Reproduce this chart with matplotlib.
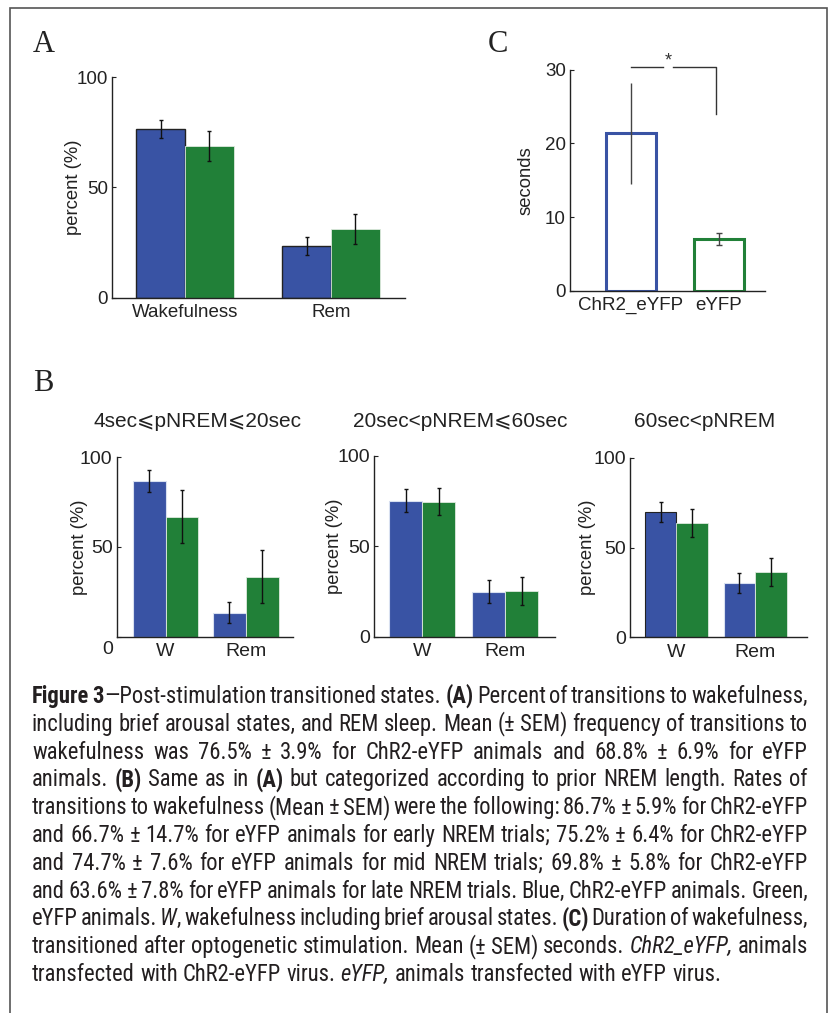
import re
import numpy as np
import matplotlib
matplotlib.use('Agg')
import matplotlib.pyplot as plt
from matplotlib.patches import Rectangle
from matplotlib.transforms import ScaledTranslation, blended_transform_factory

W, H = 829, 1013
plt.rcParams['font.family'] = ['Liberation Sans', 'DejaVu Sans']
plt.rcParams['text.color'] = '#222222'

# dane - panel A
grupy_a = ['Wakefulness', 'Rem']
chr2_a = [76.5, 23.5]
chr2_a_sem = [3.9, 3.9]
eyfp_a = [68.8, 31.2]
eyfp_a_sem = [6.9, 6.9]

# dane - panel B
tytuly_b = ['4sec⩽pNREM⩽20sec', '20sec<pNREM⩽60sec', '60sec<pNREM']
grupy_b = ['W', 'Rem']
chr2_b = [[86.7, 13.3], [75.2, 24.8], [69.8, 30.2]]
chr2_b_sem = [[5.9, 5.9], [6.4, 6.4], [5.8, 5.8]]
eyfp_b = [[66.7, 33.3], [74.7, 25.3], [63.6, 36.4]]
eyfp_b_sem = [[14.7, 14.7], [7.6, 7.6], [7.8, 7.8]]

# dane - panel C
grupy_c = ['ChR2_eYFP', 'eYFP']
sek_c = [21.4, 7.0]
sek_c_sem = [6.85, 0.85]

podpis = [
    "[b]Figure 3[/b]—Post-stimulation transitioned states. [b](A)[/b] Percent of transitions to wakefulness,",
    "including brief arousal states, and REM sleep. Mean (± SEM) frequency of transitions to",
    "wakefulness was 76.5% ± 3.9% for ChR2-eYFP animals and 68.8% ± 6.9% for eYFP",
    "animals. [b](B)[/b] Same as in [b](A)[/b] but categorized according to prior NREM length. Rates of",
    "transitions to wakefulness (Mean ± SEM) were the following: 86.7% ± 5.9% for ChR2-eYFP",
    "and 66.7% ± 14.7% for eYFP animals for early NREM trials; 75.2% ± 6.4% for ChR2-eYFP",
    "and 74.7% ± 7.6% for eYFP animals for mid NREM trials; 69.8% ± 5.8% for ChR2-eYFP",
    "and 63.6% ± 7.8% for eYFP animals for late NREM trials. Blue, ChR2-eYFP animals. Green,",
    "eYFP animals. [i]W[/i], wakefulness including brief arousal states. [b](C)[/b] Duration of wakefulness,",
    "transitioned after optogenetic stimulation. Mean (± SEM) seconds. [i]ChR2_eYFP,[/i] animals",
    "transfected with ChR2-eYFP virus. [i]eYFP,[/i] animals transfected with eYFP virus.",
]

NIEB = '#3953a4'
ZIEL = '#218038'
CIEMNY = '#222222'
FS = 13.5

fig = plt.figure(figsize=(W / 100, H / 100), dpi=100)


def osie(l, r, t, b):
    return fig.add_axes([l / W, 1 - b / H, (r - l) / W, (b - t) / H])


def styl(ax, fs=FS):
    for s in ['top', 'right']:
        ax.spines[s].set_visible(False)
    for s in ['left', 'bottom']:
        ax.spines[s].set_linewidth(1.0)
        ax.spines[s].set_color(CIEMNY)
    ax.tick_params(axis='y', direction='in', length=3, width=0.8, pad=3,
                   colors=CIEMNY, labelsize=fs)
    ax.tick_params(axis='x', length=0, pad=4.5, colors=CIEMNY, labelsize=fs)


def ylab(ax, txt, xpx):
    ax.set_ylabel(txt, fontsize=13.3, color=CIEMNY)
    ax.yaxis.set_label_coords(xpx / W, 0.5,
                              transform=blended_transform_factory(fig.transFigure, ax.transAxes))


# ramka
fig.add_artist(Rectangle((10 / W, -0.02), (827 - 10) / W, 1 - 8 / H + 0.02,
                         transform=fig.transFigure, fill=False,
                         edgecolor='#555555', linewidth=1.2))

# litery paneli
for lit, xp, yp in [('A', 33, 52), ('C', 488, 52), ('B', 33, 391)]:
    fig.text(xp / W, 1 - yp / H, lit, fontsize=22, family='Liberation Serif',
             va='baseline', ha='left', color=CIEMNY)

# panel A
axA = osie(112, 405, 77, 298)
x = np.arange(1, len(grupy_a) + 1)
w = 0.335
axA.bar(x - w / 2, chr2_a, w, color=NIEB, edgecolor=CIEMNY, linewidth=1)
axA.bar(x + w / 2, eyfp_a, w, color=ZIEL, edgecolor='#dfeadf', linewidth=0.6)
axA.errorbar(x - w / 2, chr2_a, yerr=chr2_a_sem, fmt='none', ecolor='#111111',
             elinewidth=1, capsize=1.5)
axA.errorbar(x + w / 2, eyfp_a, yerr=eyfp_a_sem, fmt='none', ecolor='#111111',
             elinewidth=1, capsize=1.5)
axA.set_xlim(0.5, 2.507)
axA.set_ylim(0, 100)
axA.set_yticks([0, 50, 100])
axA.set_xticks(x, grupy_a)
styl(axA)
ylab(axA, 'percent (%)', 82)

# panel C
axC = osie(570, 765, 69.7, 290.7)
xc = np.arange(1, len(grupy_c) + 1)
axC.bar(xc, sek_c, 0.56, fill=False, edgecolor=[NIEB, ZIEL], linewidth=2.2)
axC.errorbar(xc[0], sek_c[0], yerr=sek_c_sem[0], fmt='none', ecolor='#444444',
             elinewidth=1, capsize=0)
axC.errorbar(xc[1], sek_c[1], yerr=sek_c_sem[1], fmt='none', ecolor='#444444',
             elinewidth=1, capsize=2)
axC.set_xlim(0.31, 2.52)
axC.set_ylim(0, 30)
axC.set_yticks([0, 10, 20, 30])
axC.set_xticks(xc, grupy_c)
styl(axC)
ylab(axC, 'seconds', 535)
# nawias istotnosci
axC.plot([1.0, 1.36], [30.3, 30.3], color='#333333', lw=1, clip_on=False)
axC.plot([1.48, 1.97, 1.97], [30.3, 30.3, 24.0], color='#333333', lw=1, clip_on=False)
axC.text(1.42, 31.2, '*', ha='center', va='center', fontsize=13, color='#333333')

# panel B
pola_b = [(116.7, 293, 457, 636.7), (374, 555, 456, 636.7), (630, 807, 457.7, 637.3)]
xlim_b = [(0.39, 2.59), (0.42, 2.6), (0.41, 2.66)]
szer_b = [0.41, 0.4, 0.4]
krawedz_b = [['#d8e0f0', '#d8e0f0'], ['#d8e0f0', '#d8e0f0'], [CIEMNY, '#d8e0f0']]
ylab_b = [88, 343, 596]
tyt_b = [(198, 427), (460, 427), (705, 427)]
for i in range(3):
    ax = osie(*pola_b[i][:2], *pola_b[i][2:])
    xb = np.arange(1, len(grupy_b) + 1)
    wb = szer_b[i]
    ax.bar(xb - wb / 2, chr2_b[i], wb, color=NIEB, edgecolor=krawedz_b[i], linewidth=0.8)
    ax.bar(xb + wb / 2, eyfp_b[i], wb, color=ZIEL, edgecolor='#dfeadf', linewidth=0.6)
    ax.errorbar(xb - wb / 2, chr2_b[i], yerr=chr2_b_sem[i], fmt='none', ecolor='#111111',
                elinewidth=1, capsize=1.5)
    ax.errorbar(xb + wb / 2, eyfp_b[i], yerr=eyfp_b_sem[i], fmt='none', ecolor='#111111',
                elinewidth=1, capsize=1.5)
    ax.set_xlim(*xlim_b[i])
    ax.set_ylim(0, 100)
    ax.set_xticks(xb, grupy_b)
    styl(ax, 14)
    if i == 0:
        # zero przesuniete w dol jak w oryginale
        ax.set_yticks([0, 50, 100], ['', '50', '100'])
        ax.text(0, 0, '0', ha='right', va='center', fontsize=14, color=CIEMNY,
                transform=ax.get_yaxis_transform() + ScaledTranslation(-0.04, -0.13, fig.dpi_scale_trans))
    else:
        ax.set_yticks([0, 50, 100])
    ylab(ax, 'percent (%)', ylab_b[i])
    fig.text(tyt_b[i][0] / W, 1 - tyt_b[i][1] / H, tytuly_b[i], ha='center', va='baseline',
             fontsize=15, color=CIEMNY)

# podpis wyjustowany
r = fig.canvas.get_renderer()
CAP_FS = 16.3
CAP_FAM = ['Roboto Condensed', 'DejaVu Sans']


def props(st):
    return dict(fontsize=CAP_FS, family=CAP_FAM, color='#231f20',
                weight='bold' if st == 'b' else 'normal',
                style='italic' if st == 'i' else 'normal')


def szer(s, st):
    t = fig.text(0, 0, s, **props(st))
    ww = t.get_window_extent(r).width
    t.remove()
    return ww


def slowa(linia):
    wynik = [[]]
    st = 'n'
    for kaw in re.split(r'(\[/?[bi]\])', linia):
        if kaw in ('[b]', '[i]'):
            st = kaw[1]
            continue
        if kaw in ('[/b]', '[/i]'):
            st = 'n'
            continue
        czesci = kaw.split(' ')
        for k, p in enumerate(czesci):
            if k > 0:
                wynik.append([])
            if p:
                wynik[-1].append((p, st))
    return [s for s in wynik if s]


spacja = szer('a a', 'n') - szer('aa', 'n')
lewy, prawy = 32, 808
y0, dy = 703, 27.8
for n, linia in enumerate(podpis):
    sl = slowa(linia)
    szerokosci = [[szer(p, st) for p, st in s] for s in sl]
    suma = sum(sum(z) for z in szerokosci)
    if n < len(podpis) - 1:
        przerwa = (prawy - lewy - suma) / (len(sl) - 1)
    else:
        przerwa = spacja
    xx = lewy
    yy = y0 + n * dy
    for s, z in zip(sl, szerokosci):
        for (p, st), wz in zip(s, z):
            fig.text(xx / W, 1 - yy / H, p, ha='left', va='baseline', **props(st))
            xx += wz
        xx += przerwa

fig.savefig('out.png', dpi=100)
